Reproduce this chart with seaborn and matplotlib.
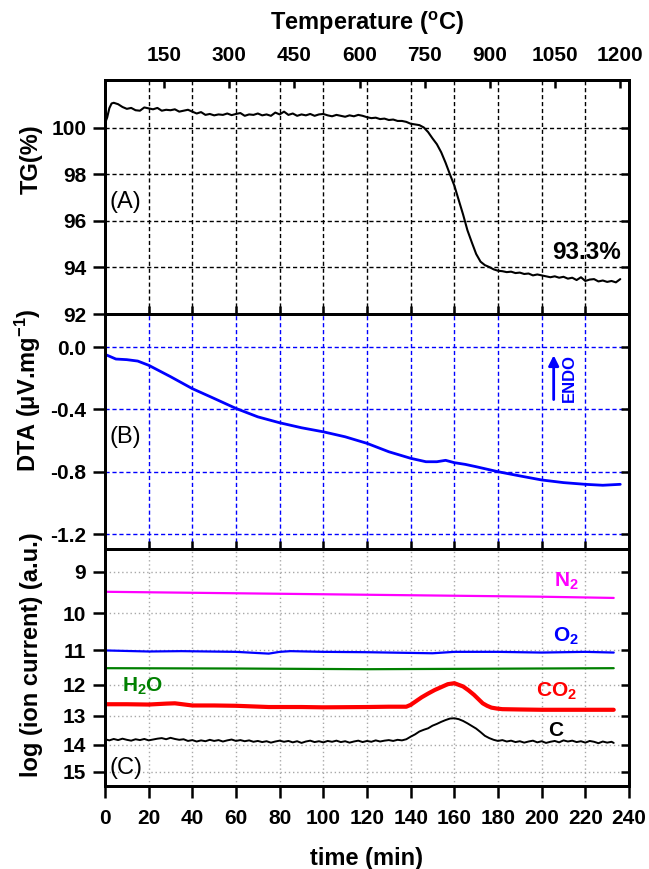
import numpy as np
import pandas as pd
import matplotlib
matplotlib.use("Agg")
import matplotlib.pyplot as plt
from matplotlib.ticker import NullLocator
import seaborn as sns

# ---------------- data ----------------
t_tg = [0, 1, 2, 3, 4, 6, 8, 10, 12, 14, 16, 18, 20, 22, 24, 26, 28, 30, 32, 34, 36, 38,
        40, 42, 44, 46, 48, 50, 52, 54, 56, 58, 60, 62, 64, 66, 68, 70, 72, 74, 76, 78,
        80, 82, 84, 86, 88, 90, 92, 94, 96, 98, 100, 102, 104, 106, 108, 110, 112, 114,
        116, 118, 120, 122, 124, 126, 128, 130, 132, 134, 136, 138, 140, 142, 144, 146,
        148, 150, 152, 154, 156, 158, 160, 162, 164, 166, 168, 170, 172, 174, 176, 178,
        180, 182, 184, 186, 188, 190, 192, 194, 196, 198, 200, 202, 204, 206, 208, 210,
        212, 214, 216, 218, 220, 222, 224, 226, 228, 230, 232, 234, 236]
tg = [100.20, 100.45, 100.85, 101.05, 101.08, 101.02, 100.90, 100.82, 100.86, 100.76,
      100.74, 100.88, 100.84, 100.80, 100.86, 100.74, 100.78, 100.76, 100.80, 100.70,
      100.74, 100.78, 100.70, 100.62, 100.68, 100.56, 100.60, 100.54, 100.58, 100.56,
      100.62, 100.55, 100.60, 100.64, 100.52, 100.58, 100.56, 100.62, 100.54, 100.58,
      100.52, 100.66, 100.58, 100.70, 100.56, 100.62, 100.52, 100.58, 100.54, 100.60,
      100.52, 100.58, 100.60, 100.54, 100.50, 100.56, 100.52, 100.48, 100.54, 100.50,
      100.56, 100.52, 100.46, 100.42, 100.44, 100.38, 100.40, 100.34, 100.36, 100.30,
      100.30, 100.26, 100.18, 100.15, 100.12, 100.02, 99.82, 99.55, 99.30, 98.95,
      98.50, 98.00, 97.52, 96.90, 96.28, 95.60, 95.08, 94.58, 94.25, 94.10, 94.02,
      93.92, 93.86, 93.84, 93.80, 93.82, 93.76, 93.78, 93.72, 93.74, 93.66, 93.70,
      93.66, 93.62, 93.58, 93.62, 93.56, 93.60, 93.52, 93.56, 93.46, 93.58, 93.42,
      93.48, 93.50, 93.40, 93.44, 93.38, 93.42, 93.36, 93.50]

t_dta = [0, 5, 10, 15, 20, 30, 40, 50, 60, 70, 80, 90, 100, 110, 120, 130, 140, 147,
         152, 156, 160, 165, 170, 180, 190, 200, 210, 220, 228, 236]
dta = [-0.047, -0.077, -0.081, -0.090, -0.117, -0.190, -0.267, -0.330, -0.394, -0.448,
       -0.486, -0.518, -0.544, -0.576, -0.618, -0.672, -0.714, -0.736, -0.736, -0.727,
       -0.742, -0.753, -0.768, -0.800, -0.827, -0.853, -0.870, -0.881, -0.887, -0.881]

t_n2 = [0, 50, 100, 150, 200, 233]
n2 = [9.47, 9.50, 9.53, 9.56, 9.59, 9.62]

t_o2 = [0, 20, 35, 60, 75, 80, 85, 100, 120, 140, 150, 160, 180, 200, 220, 233]
o2 = [11.00, 11.03, 11.02, 11.04, 11.09, 11.04, 11.02, 11.04, 11.05, 11.07, 11.08,
      11.04, 11.04, 11.06, 11.04, 11.06]

t_h2o = [0, 60, 120, 160, 233]
h2o = [11.51, 11.52, 11.54, 11.53, 11.51]

t_co2 = [0, 10, 20, 28, 32, 40, 50, 60, 75, 90, 100, 120, 130, 138, 140, 145, 148, 151,
         154, 157, 160, 164, 166.5, 169, 173, 175, 177, 179.5, 182, 190, 200, 215, 233]
co2 = [12.62, 12.62, 12.63, 12.60, 12.59, 12.66, 12.66, 12.67, 12.71, 12.71, 12.72,
       12.71, 12.70, 12.70, 12.64, 12.40, 12.28, 12.17, 12.08, 11.99, 11.96, 12.06,
       12.18, 12.32, 12.59, 12.67, 12.73, 12.76, 12.78, 12.79, 12.80, 12.80, 12.80]

t_c = list(range(0, 233, 2)) + [233]
c_ion = [13.80, 13.84, 13.79, 13.83, 13.78, 13.82, 13.85, 13.80, 13.83, 13.79, 13.84,
         13.81, 13.78, 13.76, 13.80, 13.75, 13.79, 13.82, 13.80, 13.86, 13.83, 13.88,
         13.84, 13.87, 13.82, 13.86, 13.83, 13.88, 13.84, 13.81, 13.86, 13.83, 13.87,
         13.84, 13.89, 13.86, 13.90, 13.87, 13.92, 13.88, 13.85, 13.89, 13.86, 13.91,
         13.87, 13.93, 13.88, 13.85, 13.90, 13.87, 13.91, 13.86, 13.89, 13.85, 13.90,
         13.87, 13.92, 13.88, 13.85, 13.90, 13.86, 13.89, 13.84, 13.88, 13.85, 13.83,
         13.86, 13.82, 13.84, 13.80, 13.71, 13.63, 13.53, 13.47, 13.42, 13.33, 13.27,
         13.20, 13.14, 13.09, 13.08, 13.11, 13.17, 13.25, 13.34, 13.43, 13.55, 13.68,
         13.76, 13.82, 13.86, 13.83, 13.88, 13.85, 13.90, 13.87, 13.92, 13.88, 13.85,
         13.91, 13.87, 13.93, 13.89, 13.86, 13.91, 13.84, 13.88, 13.85, 13.90, 13.87,
         13.92, 13.86, 13.89, 13.94, 13.88, 13.92, 13.89, 13.93]

time_ticks = list(range(0, 241, 20))
temp_ticks = [150, 300, 450, 600, 750, 900, 1050, 1200]
temp_lim = (13.8, 1220)
tg_ticks = [92, 94, 96, 98, 100]
dta_ticks = [0.0, -0.4, -0.8, -1.2]
dta_labels = ["0.0", "-0.4", "-0.8", "-1.2"]
ion_ticks = [9, 10, 11, 12, 13, 14, 15]

# ---------------- style ----------------
sns.set_theme(style="white")
plt.rcParams["font.family"] = ["Liberation Sans", "DejaVu Sans"]
plt.rcParams.update({
    "font.weight": "bold",
    "axes.unicode_minus": False,
    "mathtext.fontset": "custom",
    "mathtext.rm": "Liberation Sans:bold",
    "mathtext.it": "Liberation Sans:bold",
    "mathtext.bf": "Liberation Sans:bold",
    "axes.edgecolor": "black",
    "axes.linewidth": 2.0,
    "xtick.color": "black",
    "ytick.color": "black",
    "text.color": "black",
    "axes.labelcolor": "black",
    "axes.labelweight": "bold",
})

fig = plt.figure(figsize=(6.49, 8.69), dpi=100)
L, W = 105 / 649, 524 / 649
axA = fig.add_axes([L, 1 - 314 / 869, W, 234 / 869])
axB = fig.add_axes([L, 1 - 549 / 869, W, 235 / 869])
axC = fig.add_axes([L, 1 - 786 / 869, W, 237 / 869])

TL_OUT, TL_IN, TW, LS = 8.5, 6.0, 1.8, 15
LAB = 17
LX = -0.118

# ---------------- panel A ----------------
dfA = pd.DataFrame({"t": t_tg, "tg": tg})
sns.lineplot(data=dfA, x="t", y="tg", ax=axA, color="black", lw=1.5, sort=False)
axA.set_xlim(0, 240)
axA.set_ylim(92, 102.06)
axA.set_xticks(time_ticks)
axA.set_yticks(tg_ticks)
axA.grid(True, color="black", ls=(0, (3, 2)), lw=1.0)
axA.tick_params(axis="x", which="major", direction="in", length=TL_IN, width=TW,
                bottom=True, top=False, labelbottom=False)
axA.tick_params(axis="y", which="major", direction="out", length=TL_OUT, width=TW,
                left=True, right=False, labelsize=LS, pad=5)
axA.set_xlabel("")
axA.set_ylabel("TG(%)", fontsize=LAB)
axA.yaxis.set_label_coords(LX, 0.662)
axA.text(9.5, 96.83, "(A)", fontsize=17, fontweight="normal", ha="center", va="center")
axA.text(220.7, 94.65, "93.3%", fontsize=17.5, fontweight="bold", ha="center", va="center")

rA = axA.twinx()
rA.set_ylim(axA.get_ylim())
rA.set_yticks(tg_ticks)
rA.tick_params(axis="y", direction="in", length=TL_IN, width=TW, right=True, labelright=False)

tA = axA.twiny()
tA.set_xlim(*temp_lim)
tA.set_xticks(temp_ticks)
tA.tick_params(axis="x", direction="in", length=TL_IN, width=TW, top=True, bottom=False,
               labeltop=True, labelsize=LS, pad=11)
tA.set_xlabel("Temperature ($^{\\rm o}$C)", fontsize=LAB, labelpad=11)

# ---------------- panel B ----------------
dfB = pd.DataFrame({"t": t_dta, "dta": dta})
sns.lineplot(data=dfB, x="t", y="dta", ax=axB, color="#0000ff", lw=2.0, sort=False)
axB.set_xlim(0, 240)
axB.set_ylim(-1.296, 0.212)
axB.set_xticks(time_ticks)
axB.set_yticks(dta_ticks, labels=dta_labels)
axB.grid(True, color="#0000ff", ls=(0, (3, 2)), lw=1.0)
axB.tick_params(axis="x", direction="in", length=TL_IN, width=TW, bottom=True, top=False,
                labelbottom=False)
axB.tick_params(axis="y", direction="out", length=TL_OUT, width=TW, left=True, right=False,
                labelsize=LS, pad=5)
axB.set_xlabel("")
axB.set_ylabel("DTA (μV.mg$^{-1}$)", fontsize=LAB)
axB.yaxis.set_label_coords(LX, 0.677)
axB.text(9.5, -0.576, "(B)", fontsize=17, fontweight="normal", ha="center", va="center")
axB.annotate("", xy=(205.5, -0.035), xytext=(205.5, -0.355),
             arrowprops=dict(arrowstyle="-|>", color="#0000ff", lw=2.0, mutation_scale=15))
axB.text(212.7, -0.2, "ENDO", rotation=90, color="#0000ff", fontsize=12,
         fontweight="bold", ha="center", va="center")

rB = axB.twinx()
rB.set_ylim(axB.get_ylim())
rB.set_yticks(dta_ticks)
rB.tick_params(axis="y", direction="in", length=TL_IN, width=TW, right=True, labelright=False)

# ---------------- panel C ----------------
series = [
    (t_n2, n2, "#ff00ff", 1.6),
    (t_o2, o2, "#0000ff", 1.6),
    (t_h2o, h2o, "#008000", 1.6),
    (t_co2, co2, "#ff0000", 3.0),
    (t_c, c_ion, "black", 1.4),
]
for tx, vy, col, lw in series:
    d = pd.DataFrame({"t": tx, "v": vy})
    sns.lineplot(data=d, x="t", y="v", ax=axC, color=col, lw=lw, sort=False)
axC.set_yscale("log")
axC.set_xlim(0, 240)
axC.set_ylim(15.55, 8.49)
axC.set_xticks(time_ticks)
axC.set_yticks(ion_ticks, labels=[str(v) for v in ion_ticks])
axC.yaxis.set_minor_locator(NullLocator())
axC.grid(True, which="major", color="#a8a8a8", ls=(0, (1, 2)), lw=1.0)
axC.tick_params(axis="x", direction="out", length=TL_OUT, width=TW, bottom=True, top=False,
                labelsize=LS, pad=8)
axC.tick_params(axis="y", which="major", direction="out", length=TL_OUT, width=TW,
                left=True, right=False, labelsize=LS, pad=5)
axC.tick_params(axis="y", which="minor", left=False, right=False)
axC.set_xlabel("time (min)", fontsize=LAB, labelpad=14)
axC.set_ylabel("log (ion current) (a.u.)", fontsize=LAB)
axC.yaxis.set_label_coords(LX, 0.553)
axC.text(9.5, 14.85, "(C)", fontsize=17, fontweight="normal", ha="center", va="center")
axC.text(211.4, 9.23, "N$_2$", color="#ff00ff", fontsize=15, ha="center", va="center")
axC.text(211.0, 10.62, "O$_2$", color="#0000ff", fontsize=15, ha="center", va="center")
axC.text(17.1, 12.06, "H$_2$O", color="#008000", fontsize=15, ha="center", va="center")
axC.text(206.6, 12.22, "CO$_2$", color="#ff0000", fontsize=15, ha="center", va="center")
axC.text(206.6, 13.48, "C", color="black", fontsize=15, ha="center", va="center")

rC = axC.twinx()
rC.set_yscale("log")
rC.set_ylim(axC.get_ylim())
rC.set_yticks(ion_ticks)
rC.yaxis.set_minor_locator(NullLocator())
rC.tick_params(axis="y", which="major", direction="in", length=TL_IN, width=TW, right=True,
               labelright=False)
rC.tick_params(axis="y", which="minor", right=False, left=False)

fig.savefig("out.png", dpi=100)
